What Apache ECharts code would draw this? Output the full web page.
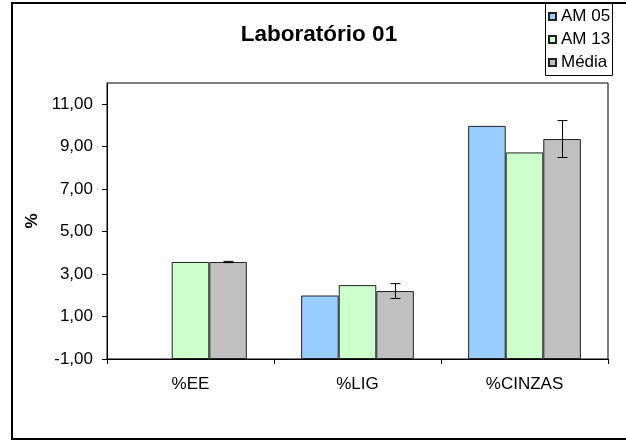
<!DOCTYPE html>
<html>
<head>
<meta charset="utf-8">
<script src="https://cdn.jsdelivr.net/npm/echarts@6/dist/echarts.min.js"></script>
<style>html,body{margin:0;padding:0;background:#fff;}#c{width:626px;height:441px;}</style>
</head>
<body>
<div id="c"></div>
<script>
const categories = ['%EE', '%LIG', '%CINZAS'];
const am05 = [null, 1.99, 9.98];
const am13 = [3.57, 2.48, 8.73];
const media = [3.57, 2.20, 9.36];
const mediaErr = [0.03, 0.35, 0.87];
const yTicks = [-1, 1, 3, 5, 7, 9, 11];
const axisBase = -1; // bars rise from the axis floor (-1), as in the original

const FONT = '"Liberation Sans", Arial, sans-serif';
const shift = v => (v == null ? null : v - axisBase);
const fmt = v => (v + axisBase).toFixed(2).replace('.', ',');

const chart = echarts.init(document.getElementById('c'), null, {renderer: 'canvas'});
const barStyle = c => ({color: c, borderColor: '#222', borderWidth: 1});
const BW = 0.225;

chart.setOption({
  animation: false,
  textStyle: {fontFamily: FONT},
  title: {
    text: 'Laboratório 01', left: 314, top: 18, textAlign: 'center',
    textStyle: {fontFamily: FONT, fontWeight: 'bold', fontSize: 22.5, color: '#000'}
  },
  legend: {
    orient: 'vertical', left: 548, top: 8,
    padding: 0, itemGap: 6, itemWidth: 7, itemHeight: 7, icon: 'rect',
    textStyle: {fontFamily: FONT, fontSize: 17, color: '#000'},
    data: ['AM 05', 'AM 13', 'Média']
  },
  graphic: [{
    type: 'rect', z: -10, silent: true,
    shape: {x: 12, y: 3, width: 700, height: 436},
    style: {fill: 'none', stroke: '#000', lineWidth: 2}
  }, {
    type: 'rect', z: 1, silent: true,
    shape: {x: 545.5, y: 3.5, width: 67, height: 72},
    style: {fill: '#fff', stroke: '#000', lineWidth: 1}
  }],
  grid: {left: 107, top: 83, right: 18, bottom: 82, containLabel: false,
         show: true, borderColor: '#000', borderWidth: 1, backgroundColor: 'transparent'},
  xAxis: {
    type: 'category', data: categories,
    axisLine: {lineStyle: {color: '#000', width: 1}},
    axisTick: {show: true, interval: 0, alignWithLabel: false, length: 5, lineStyle: {color: '#000'}},
    axisLabel: {color: '#000', fontSize: 17, fontFamily: FONT, margin: 17}
  },
  yAxis: {
    type: 'value', min: 0, max: 13, interval: 2,
    name: '%', nameLocation: 'middle', nameRotate: 90, nameGap: 64,
    nameTextStyle: {fontFamily: FONT, fontSize: 17, fontWeight: 'bold', color: '#000'},
    axisLine: {show: true, lineStyle: {color: '#000', width: 1}},
    axisTick: {show: true, length: 5, lineStyle: {color: '#000'}, customValues: yTicks.map(shift)},
    splitLine: {show: false},
    axisLabel: {color: '#000', fontSize: 17, fontFamily: FONT, margin: 14,
                customValues: yTicks.map(shift), formatter: v => fmt(v)}
  },
  series: [
    {name: 'AM 05', type: 'bar', data: am05.map(shift), barWidth: (BW * 100) + '%', barGap: '0%', itemStyle: barStyle('#99CCFF')},
    {name: 'AM 13', type: 'bar', data: am13.map(shift), barWidth: (BW * 100) + '%', barGap: '0%', itemStyle: barStyle('#CCFFCC')},
    {name: 'Média', type: 'bar', data: media.map(shift), barWidth: (BW * 100) + '%', barGap: '0%', itemStyle: barStyle('#C0C0C0')},
    {
      type: 'custom', name: 'err', z: 10, silent: true,
      data: media.map((m, i) => [i, shift(m - mediaErr[i]), shift(m + mediaErr[i])]),
      renderItem: (params, api) => {
        const band = api.size([1, 0])[0];
        const lo = api.coord([api.value(0), api.value(1)]);
        const hi = api.coord([api.value(0), api.value(2)]);
        const x = Math.round(lo[0] + band * BW) + 0.5;
        const cap = 5;
        const st = {stroke: '#000', lineWidth: 1};
        return {type: 'group', children: [
          {type: 'line', shape: {x1: x, y1: hi[1], x2: x, y2: lo[1]}, style: st},
          {type: 'line', shape: {x1: x - cap, y1: hi[1], x2: x + cap, y2: hi[1]}, style: st},
          {type: 'line', shape: {x1: x - cap, y1: lo[1], x2: x + cap, y2: lo[1]}, style: st}
        ]};
      }
    }
  ]
});
</script>
</body>
</html>
